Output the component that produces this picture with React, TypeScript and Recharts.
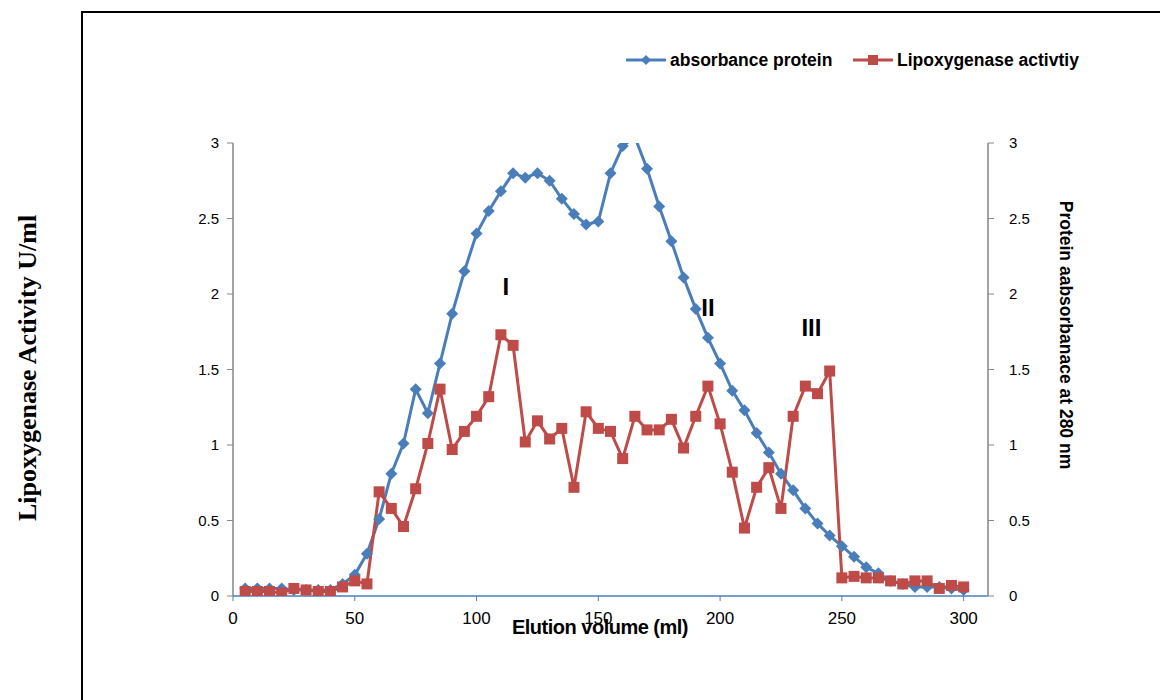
import React from "react";
import {
  LineChart,
  Line,
  XAxis,
  YAxis,
  ReferenceDot,
} from "recharts";

const volumes = [
  5, 10, 15, 20, 25, 30, 35, 40, 45, 50, 55, 60, 65, 70, 75, 80, 85, 90, 95, 100,
  105, 110, 115, 120, 125, 130, 135, 140, 145, 150, 155, 160, 165, 170, 175, 180,
  185, 190, 195, 200, 205, 210, 215, 220, 225, 230, 235, 240, 245, 250, 255, 260,
  265, 270, 275, 280, 285, 290, 295, 300,
];

const protein = [
  0.05, 0.05, 0.05, 0.05, 0.04, 0.04, 0.04, 0.04, 0.08, 0.14, 0.28, 0.51, 0.81, 1.01,
  1.37, 1.21, 1.54, 1.87, 2.15, 2.4, 2.55, 2.68, 2.8, 2.77, 2.8, 2.75, 2.63, 2.53,
  2.46, 2.48, 2.8, 2.98, 3.04, 2.83, 2.58, 2.35, 2.11, 1.9, 1.71, 1.54, 1.36, 1.23,
  1.08, 0.95, 0.81, 0.7, 0.58, 0.48, 0.4, 0.33, 0.26, 0.19, 0.15, 0.1, 0.08, 0.06,
  0.06, 0.06, 0.05, 0.04,
];

const lipoxygenase = [
  0.03, 0.03, 0.03, 0.02, 0.05, 0.04, 0.03, 0.03, 0.06, 0.1, 0.08, 0.69, 0.58, 0.46,
  0.71, 1.01, 1.37, 0.97, 1.09, 1.19, 1.32, 1.73, 1.66, 1.02, 1.16, 1.04, 1.11, 0.72,
  1.22, 1.11, 1.09, 0.91, 1.19, 1.1, 1.1, 1.17, 0.98, 1.19, 1.39, 1.14, 0.82, 0.45,
  0.72, 0.85, 0.58, 1.19, 1.39, 1.34, 1.49, 0.12, 0.13, 0.12, 0.12, 0.1, 0.08, 0.1,
  0.1, 0.05, 0.07, 0.06,
];

const xTicks = [0, 50, 100, 150, 200, 250, 300];
const yTicks = [0, 0.5, 1, 1.5, 2, 2.5, 3];

// peak annotations (volume, activity)
const peakLabels = [
  { vol: 112, val: 2.05, text: "I" },
  { vol: 195, val: 1.91, text: "II" },
  { vol: 237.5, val: 1.78, text: "III" },
];

const data = volumes.map((v, i) => ({
  vol: v,
  protein: protein[i],
  lox: lipoxygenase[i],
}));

const BLUE = "#4A7EBB";
const RED = "#BE4B48";
const AXIS_GRAY = "#868686";
const ARIAL = "'Liberation Sans', Arial, sans-serif";

const Diamond = (p: any) => {
  if (p.cx == null || p.cy == null) return <g key={p.index} />;
  const s = 6;
  return (
    <path
      key={p.index}
      d={`M${p.cx},${p.cy - s}L${p.cx + s},${p.cy}L${p.cx},${p.cy + s}L${p.cx - s},${p.cy}Z`}
      fill={BLUE}
    />
  );
};

const Square = (p: any) => {
  if (p.cx == null || p.cy == null) return <g key={p.index} />;
  const s = 5.5;
  return <rect key={p.index} x={p.cx - s} y={p.cy - s} width={s * 2} height={s * 2} fill={RED} />;
};

const yTickStyle = { fill: "#000", fontSize: 15, fontFamily: ARIAL };
const xTickStyle = { fill: "#000", fontSize: 17, fontFamily: ARIAL };

const legendText = {
  position: "absolute" as const,
  top: 50,
  fontFamily: ARIAL,
  fontWeight: "bold" as const,
  fontSize: 17.5,
  lineHeight: "20px",
  whiteSpace: "nowrap" as const,
  color: "#000",
};

export default function App() {
  return (
    <div
      style={{
        position: "fixed",
        left: 0,
        top: 0,
        width: 1160,
        height: 700,
        overflow: "hidden",
        background: "#fff",
      }}
    >
      <div
        style={{
          position: "absolute",
          left: 81,
          top: 11,
          width: 1120,
          height: 740,
          border: "2px solid #000",
        }}
      />

      {/* legend */}
      <svg style={{ position: "absolute", left: 625, top: 52 }} width={42} height={16}>
        <line x1={1} y1={8} x2={41} y2={8} stroke={BLUE} strokeWidth={3} />
        <path d="M21,3L26,8L21,13L16,8Z" fill={BLUE} />
      </svg>
      <div style={{ ...legendText, left: 670 }}>absorbance protein</div>
      <svg style={{ position: "absolute", left: 852, top: 52 }} width={42} height={16}>
        <line x1={1} y1={8} x2={41} y2={8} stroke={RED} strokeWidth={3} />
        <rect x={16} y={3} width={10} height={10} fill={RED} />
      </svg>
      <div style={{ ...legendText, left: 897 }}>Lipoxygenase activtiy</div>

      {/* left axis title */}
      <div
        style={{
          position: "absolute",
          left: 28,
          top: 368,
          transform: "translate(-50%, -50%) rotate(-90deg)",
          whiteSpace: "nowrap",
          fontFamily: "'Liberation Serif', 'Times New Roman', serif",
          fontWeight: "bold",
          fontSize: 26,
        }}
      >
        Lipoxygenase Activity U/ml
      </div>

      {/* right axis title */}
      <div
        style={{
          position: "absolute",
          left: 1065,
          top: 335,
          transform: "translate(-50%, -50%) rotate(90deg)",
          whiteSpace: "nowrap",
          fontFamily: ARIAL,
          fontWeight: "bold",
          fontSize: 17.5,
        }}
      >
        Protein aabsorbanace at 280 nm
      </div>

      <div style={{ position: "absolute", left: 0, top: 0 }}>
        <LineChart
          width={1160}
          height={700}
          data={data}
          margin={{ top: 143, left: 193, right: 132, bottom: 74 }}
        >
          <XAxis
            dataKey="vol"
            type="number"
            domain={[0, 310]}
            ticks={xTicks}
            height={30}
            stroke={BLUE}
            tickSize={5}
            tickMargin={11}
            tick={xTickStyle}
            axisLine={{ stroke: BLUE, strokeWidth: 1.5 }}
            tickLine={{ stroke: BLUE }}
          />
          <YAxis
            yAxisId="left"
            orientation="left"
            domain={[0, 3]}
            ticks={yTicks}
            allowDataOverflow
            width={40}
            tickSize={6}
            tickMargin={8}
            tick={yTickStyle}
            axisLine={{ stroke: AXIS_GRAY, strokeWidth: 1.5 }}
            tickLine={{ stroke: AXIS_GRAY }}
          />
          <YAxis
            yAxisId="right"
            orientation="right"
            domain={[0, 3]}
            ticks={yTicks}
            allowDataOverflow
            width={40}
            tickSize={6}
            tickMargin={15}
            tick={yTickStyle}
            axisLine={{ stroke: AXIS_GRAY, strokeWidth: 1.5 }}
            tickLine={{ stroke: AXIS_GRAY }}
          />
          <Line
            yAxisId="right"
            dataKey="protein"
            stroke={BLUE}
            strokeWidth={3}
            dot={Diamond}
            activeDot={false}
            isAnimationActive={false}
          />
          <Line
            yAxisId="left"
            dataKey="lox"
            stroke={RED}
            strokeWidth={3}
            dot={Square}
            activeDot={false}
            isAnimationActive={false}
          />
          {peakLabels.map((p) => (
            <ReferenceDot
              key={p.text}
              yAxisId="left"
              x={p.vol}
              y={p.val}
              r={0}
              fill="none"
              stroke="none"
              label={{
                value: p.text,
                position: "center",
                fill: "#000",
                fontSize: 24,
                fontWeight: "bold",
                fontFamily: ARIAL,
              }}
            />
          ))}
        </LineChart>
      </div>

      {/* x axis title, drawn over the tick labels as in the original */}
      <div
        style={{
          position: "absolute",
          left: 600,
          top: 627,
          transform: "translate(-50%, -50%)",
          whiteSpace: "nowrap",
          fontFamily: ARIAL,
          fontWeight: "bold",
          fontSize: 20,
          letterSpacing: -0.5,
        }}
      >
        Elution volume (ml)
      </div>
    </div>
  );
}
